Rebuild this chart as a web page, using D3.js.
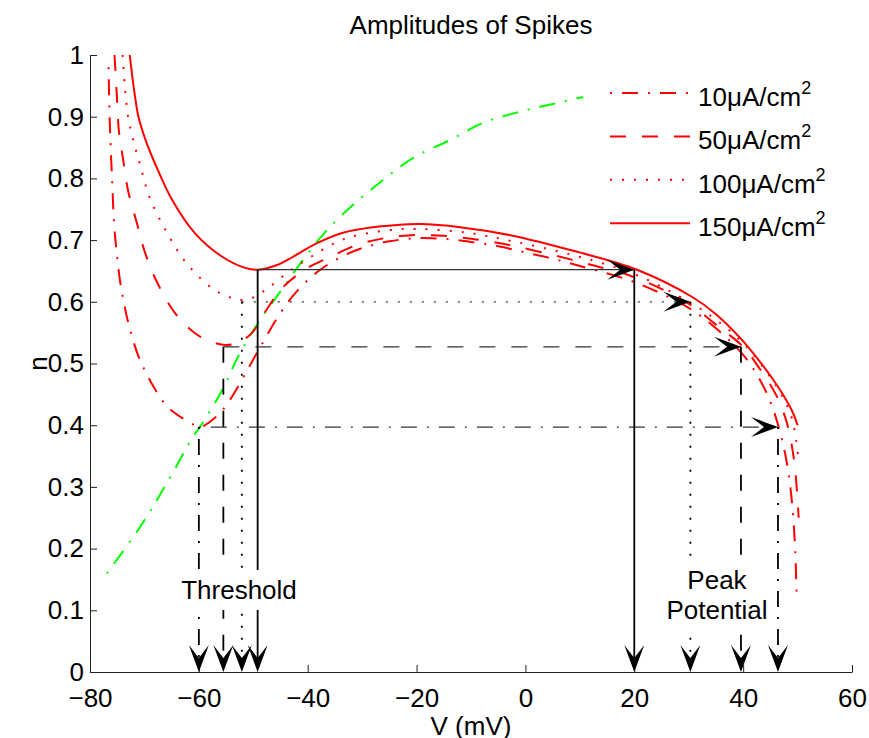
<!DOCTYPE html>
<html>
<head>
<meta charset="utf-8">
<script src="https://cdn.jsdelivr.net/npm/d3@7"></script>
<style>
  body { margin: 0; background: #fff; }
  text { font-family: "Liberation Sans", Arial, sans-serif; fill: #000; }
</style>
</head>
<body>
<div class="chart"></div>
<script>
// values, points are [V (mV), n]
var curve10 = [[-76.6,0.98],[-76.4,0.90],[-76.2,0.85],[-75.9,0.79],[-75.6,0.73],[-75.1,0.68],[-74.5,0.635],[-73.8,0.60],[-73.0,0.567],
  [-71.2,0.514],[-69.7,0.485],[-68.1,0.459],[-65.9,0.431],[-63.3,0.413],[-60.7,0.400],[-59.5,0.398],[-57.6,0.408],[-55.6,0.425],
  [-53.5,0.452],[-51,0.491],[-48.5,0.53],[-45,0.582],[-42,0.617],[-38,0.65],[-34,0.672],[-30,0.687],[-25,0.698],[-20,0.703],
  [-15,0.702],[-10,0.697],[-5,0.69],[0,0.68],[5,0.67],[10,0.658],[20,0.632],[30,0.59],[35,0.557],[40,0.514],[43,0.475],
  [45,0.438],[46.5,0.398],[47.8,0.35],[48.8,0.29],[49.5,0.21],[49.8,0.13]];
var curve50 = [[-75.5,1.0],[-75.1,0.94],[-74.7,0.878],[-73.9,0.83],[-73,0.78],[-71.4,0.728],[-69.9,0.68],[-67.7,0.632],[-64.4,0.582],
  [-60.7,0.549],[-57.6,0.535],[-55,0.53],[-52.5,0.535],[-50.2,0.55],[-47.5,0.588],[-44.5,0.624],[-40,0.655],[-36,0.672],[-31,0.692],
  [-26,0.703],[-21,0.708],[-15,0.707],[-9,0.701],[-3,0.692],[5,0.676],[12,0.66],[20,0.64],[30,0.597],[35,0.563],[40,0.527],
  [43,0.492],[46,0.45],[48,0.405],[49.4,0.34],[50.2,0.25]];
var curve100 = [[-74,1.0],[-73.6,0.95],[-73,0.9],[-72,0.86],[-70.8,0.822],[-69,0.768],[-65.9,0.713],[-62.5,0.665],[-57.6,0.622],
  [-55,0.61],[-52.5,0.603],[-50,0.607],[-47.5,0.621],[-43.6,0.648],[-39,0.675],[-34.6,0.697],[-30.8,0.708],[-24,0.717],
  [-19.7,0.718],[-10.7,0.712],[-2.3,0.698],[8.6,0.676],[20,0.645],[30,0.60],[35,0.571],[40,0.533],[44,0.49],[47,0.45],
  [49,0.41],[50.1,0.35]];
var curve150 = [[-72.7,1.0],[-72,0.95],[-71.1,0.9],[-69.7,0.86],[-68.1,0.825],[-64.9,0.765],[-60.7,0.711],[-55.7,0.673],[-51.5,0.655],
  [-49.2,0.652],[-45.5,0.66],[-42.7,0.673],[-38.3,0.695],[-33.5,0.712],[-28,0.721],[-24.3,0.724],[-19.4,0.726],[-12,0.721],
  [-2.8,0.708],[9.5,0.681],[20.5,0.652],[30.8,0.607],[35,0.58],[39.4,0.542],[43,0.504],[45.5,0.474],[47.5,0.447],[49,0.423],[50,0.40]];
var nNullcline = [[-76.9,0.16],[-70.8,0.235],[-65.9,0.306],[-61.1,0.381],[-59.8,0.397],[-55.7,0.457],[-52.8,0.511],[-49.1,0.566],
  [-45,0.617],[-41.1,0.665],[-36.8,0.713],[-31.7,0.757],[-26.2,0.797],[-20.7,0.833],[-13.9,0.862],[-7.8,0.89],[-1,0.908],
  [5.8,0.922],[10.6,0.932]];

var legendLabels = ["10μA/cm", "50μA/cm", "100μA/cm", "150μA/cm"];
var xTicks = [-80, -60, -40, -20, 0, 20, 40, 60];
var yTicks = [0, 0.1, 0.2, 0.3, 0.4, 0.5, 0.6, 0.7, 0.8, 0.9, 1];

// threshold / peak readout for each current, same order as the legend
var thresholdV = [-60.0, -55.5, -52.1, -49.2];
var peakV = [46.4, 39.6, 30.3, 20.0];
var levelN = [0.397, 0.527, 0.600, 0.652];

var curves = [curve10, curve50, curve100, curve150];
var dashes = ["2,10,16,10", "16,16", "2,10", null];

var width = 869, height = 738;
var margin = { left: 90, right: 17, top: 55, bottom: 66 };

var svg = d3.select(".chart")
  .append("svg")
    .attr("width", width)
    .attr("height", height);

var x = d3.scaleLinear()
  .domain([-80, 60])
  .range([margin.left, width - margin.right]);

var y = d3.scaleLinear()
  .domain([0, 1])
  .range([height - margin.bottom, margin.top]);

// axes, ticks pointing inward
var xAxisGroup = svg.append("g")
  .attr("transform", "translate(0," + y(0) + ")")
  .call(d3.axisBottom(x).tickValues(xTicks).tickSizeInner(-7).tickSizeOuter(0)
    .tickFormat(d3.format("~g")));
xAxisGroup.selectAll("text")
  .attr("y", 35)
  .attr("dy", null)
  .attr("font-size", "26px");

var yAxisGroup = svg.append("g")
  .attr("transform", "translate(" + x(-80) + ",0)")
  .call(d3.axisLeft(y).tickValues(yTicks).tickSizeInner(-7).tickSizeOuter(0).tickPadding(6)
    .tickFormat(d3.format("~g")));
yAxisGroup.selectAll("text")
  .attr("dy", "0.32em")
  .attr("font-size", "26px");
svg.selectAll(".domain, .tick line").attr("stroke", "#222");
svg.selectAll(".tick text").attr("fill", "#000");

var line = d3.line()
  .x(function(d) { return x(d[0]); })
  .y(function(d) { return y(d[1]); })
  .curve(d3.curveCatmullRom.alpha(0.5));

// n nullcline
svg.append("path")
  .datum(nNullcline)
  .attr("d", line)
  .attr("fill", "none")
  .attr("stroke", "#00ff00")
  .attr("stroke-width", 2)
  .attr("stroke-dasharray", "2,10,16,10");

// V nullclines
svg.selectAll(".vnull")
  .data(curves)
  .enter()
  .append("path")
    .attr("class", "vnull")
    .attr("d", line)
    .attr("fill", "none")
    .attr("stroke", "#ff0000")
    .attr("stroke-width", 2)
    .attr("stroke-dasharray", function(d, i) { return dashes[i]; });

// black readout lines
for (var i = 0; i < 4; i++) {
  var ly = y(levelN[i]);
  svg.append("line")
    .attr("x1", x(thresholdV[i])).attr("x2", x(peakV[i]))
    .attr("y1", ly).attr("y2", ly)
    .attr("stroke", "#333").attr("stroke-width", 1.2)
    .attr("stroke-dasharray", dashes[i]);
  [thresholdV[i], peakV[i]].forEach(function(v) {
    svg.append("line")
      .attr("x1", x(v)).attr("x2", x(v))
      .attr("y1", ly).attr("y2", y(0) - 12)
      .attr("stroke", "#000").attr("stroke-width", 1.8)
      .attr("stroke-dasharray", dashes[i]);
  });
}

// text labels with white backing
function label(lines, cx, baseline) {
  var g = svg.append("g");
  var t = g.append("text")
    .attr("text-anchor", "middle")
    .attr("font-size", "26px");
  lines.forEach(function(s, k) {
    t.append("tspan").attr("x", cx).attr("y", baseline + k * 30).text(s);
  });
  var b = t.node().getBBox();
  g.insert("rect", "text")
    .attr("x", b.x - 3).attr("y", b.y - 5)
    .attr("width", b.width + 6).attr("height", b.height + 10)
    .attr("fill", "#fff");
}
label(["Threshold"], 239, 599);
label(["Peak", "Potential"], 717, 589);

// arrow heads
function arrowHead(px, py, angle) {
  svg.append("path")
    .attr("d", "M0,0 L-27,-10 L-14,0 L-27,10 Z")
    .attr("transform", "translate(" + px + "," + py + ") rotate(" + angle + ")")
    .attr("fill", "#000");
}
for (var j = 0; j < 4; j++) {
  arrowHead(x(peakV[j]), y(levelN[j]), 0);
  arrowHead(x(thresholdV[j]), y(0), 90);
  arrowHead(x(peakV[j]), y(0), 90);
}

// legend
var legend = svg.selectAll(".legend")
  .data(legendLabels)
  .enter()
  .append("g")
    .attr("class", "legend")
    .attr("transform", function(d, i) { return "translate(610," + (93 + i * 43.4) + ")"; });
legend.append("line")
  .attr("x1", 0).attr("x2", 80)
  .attr("stroke", "#ff0000")
  .attr("stroke-width", 2)
  .attr("stroke-dasharray", function(d, i) { return dashes[i]; });
var legendText = legend.append("text")
  .attr("x", 88)
  .attr("y", 13)
  .attr("font-size", "26px");
legendText.append("tspan").text(function(d) { return d; });
legendText.append("tspan").attr("dy", -12).attr("font-size", "18px").text("2");

// titles
svg.append("text")
  .attr("x", (x(-80) + x(60)) / 2)
  .attr("y", 34)
  .attr("text-anchor", "middle")
  .attr("font-size", "26px")
  .text("Amplitudes of Spikes");

svg.append("text")
  .attr("x", (x(-80) + x(60)) / 2)
  .attr("y", 735)
  .attr("text-anchor", "middle")
  .attr("font-size", "26px")
  .text("V (mV)");

svg.append("text")
  .attr("transform", "translate(47," + y(0.5) + ") rotate(-90)")
  .attr("text-anchor", "middle")
  .attr("font-size", "26px")
  .text("n");
</script>
</body>
</html>
